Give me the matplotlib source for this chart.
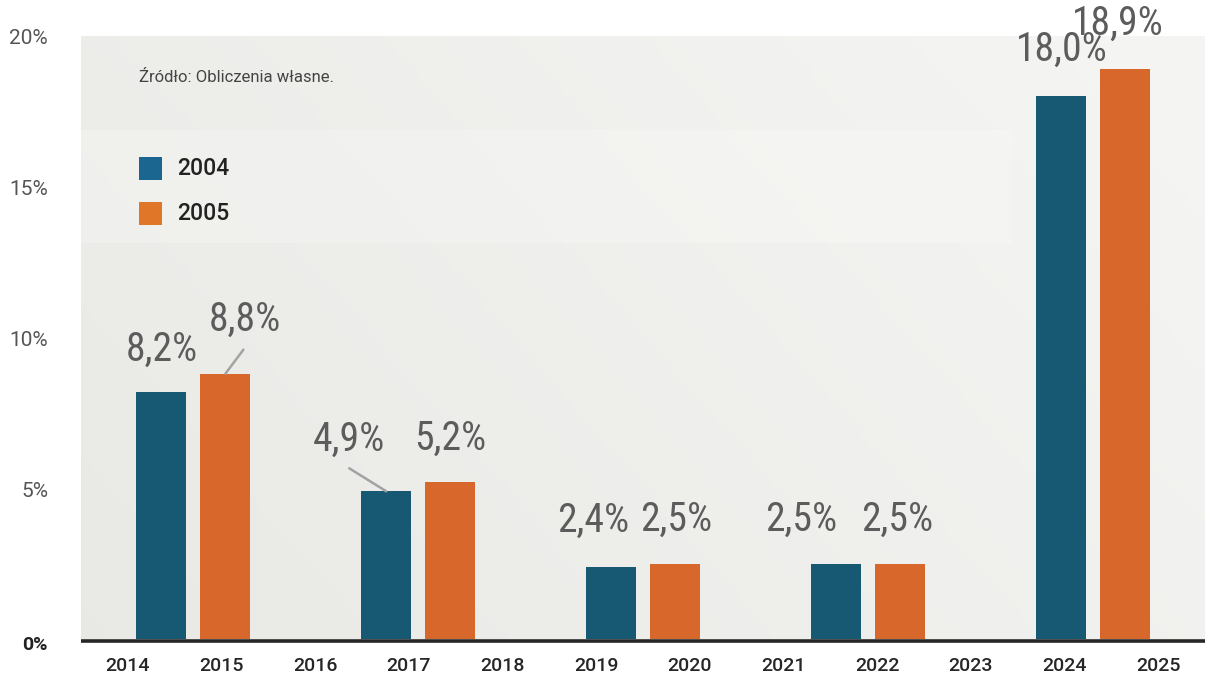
import numpy as np
import matplotlib
matplotlib.use("Agg")
import matplotlib.pyplot as plt
from matplotlib import font_manager as fm
from matplotlib.patches import Rectangle
import matplotlib.transforms as mtrans

# ---------------- data ----------------
tick_labels = ["2014", "2015", "2016", "2017", "2018", "2019",
               "2020", "2021", "2022", "2023", "2024", "2025"]
series_names = ["2004", "2005"]
values_2004 = [8.2, 4.9, 2.4, 2.5, 18.0]
values_2005 = [8.8, 5.2, 2.5, 2.5, 18.9]
label_2004 = ["8,2%", "4,9%", "2,4%", "2,5%", "18,0%"]
label_2005 = ["8,8%", "5,2%", "2,5%", "2,5%", "18,9%"]
y_ticks = [0, 5, 10, 15, 20]
y_tick_labels = ["0%", "5%", "10%", "15%", "20%"]
source_text = "Źródło: Obliczenia własne."

# ---------------- fonts ----------------
names = {f.name for f in fm.fontManager.ttflist}
base = "Roboto" if "Roboto" in names else "DejaVu Sans"
narrow = next((n for n in ["Liberation Sans Narrow", "Roboto Condensed"] if n in names), None)
lab_font = narrow if narrow else base
lab_size = 28.5 if narrow else 23

# ---------------- style ----------------
c_blue, c_orange = "#175873", "#d8672c"
c_leg_blue, c_leg_orange = "#1b6691", "#e07628"
W, H = 1205, 679
AX_L, AX_TOP, AX_BOT = 81, 36, 639
AX_W, AX_H = W - AX_L, AX_BOT - AX_TOP
fig = plt.figure(figsize=(W / 100, H / 100), dpi=100)
fig.patch.set_facecolor("white")
ax = fig.add_axes([AX_L / W, (H - AX_BOT) / H, AX_W / W, AX_H / H])

n_ticks = len(tick_labels)
n_groups = len(values_2004)
XMAX = 60.0
YMAX = 20.0
ax.set_xlim(0, XMAX)
ax.set_ylim(0, YMAX)


def axx(px):
    return (px - AX_L) / AX_W


def axy(py):
    return (AX_BOT - py) / AX_H


# background gradient
gx = np.linspace(0, 1, 200)
gy = np.linspace(0, 1, 100)
GX, GY = np.meshgrid(gx, gy)
t = np.clip(0.75 * GX + 0.35 * GY, 0, 1)
c0 = np.array([0.913, 0.914, 0.900])
c1 = np.array([0.957, 0.957, 0.950])
img = c0[None, None, :] * (1 - t[..., None]) + c1[None, None, :] * t[..., None]
ax.imshow(img, extent=[0, XMAX, 0, YMAX], aspect="auto", zorder=0, origin="lower")
for s in ax.spines.values():
    s.set_visible(False)

# legend band
ax.add_patch(Rectangle((axx(81), axy(243)), (1012 - 81) / AX_W, 113 / AX_H,
                       transform=ax.transAxes, facecolor="white", alpha=0.22,
                       edgecolor="none", zorder=0.5))

group_w = XMAX / n_groups
centers = np.array([(i + 0.5) * group_w for i in range(n_groups)])
bw = 50 / AX_W * XMAX
off = 32 / AX_W * XMAX
x1 = centers - off
x2 = centers + off
ax.bar(x1, values_2004, width=bw, color=c_blue, zorder=3)
ax.bar(x2, values_2005, width=bw, color=c_orange, zorder=3)

# baseline (drawn just below zero)
shift = mtrans.ScaledTranslation(0, -2.0 / 100, fig.dpi_scale_trans)
ax.plot([0, 1], [0, 0], transform=ax.transAxes + shift,
        color="#262626", lw=2.6, clip_on=False, zorder=2, solid_capstyle="butt")

# value labels (pixel offsets from bar top centre)
offs_2004 = [(0, 42), (-37, 52), (-18, 46), (-35, 44), (1, 47)]
offs_2005 = [(19, 54), (0, 44), (1, 44), (-3, 44), (-7, 46)]
leader_2004 = [None, (-37, 23), None, None, None]
leader_2005 = [(18, 24), None, None, None, None]
for xs, vals, labs, offs, leads in [(x1, values_2004, label_2004, offs_2004, leader_2004),
                                    (x2, values_2005, label_2005, offs_2005, leader_2005)]:
    for x, v, lab, o, ld in zip(xs, vals, labs, offs, leads):
        ax.annotate(lab, xy=(x, v), xytext=o, textcoords="offset pixels",
                    ha="center", va="center", fontsize=lab_size, family=lab_font,
                    color="#5c5c5c", zorder=5, annotation_clip=False)
        if ld is not None:
            ax.annotate("", xy=(x, v), xytext=ld, textcoords="offset pixels",
                        arrowprops=dict(arrowstyle="-", color="#a3a3a3", lw=1.8,
                                        shrinkA=0, shrinkB=0), zorder=4)

# x ticks
tick_pos = [(i + 0.5) * XMAX / n_ticks for i in range(n_ticks)]
ax.set_xticks(tick_pos)
ax.set_xticklabels(tick_labels, family=base, fontsize=14, weight="medium", color="#262626")
ax.tick_params(axis="x", length=0, pad=13)

# y tick labels drawn as annotations (axes-x, data-y)
ax.set_yticks([])
ytrans = ax.get_yaxis_transform()
for v, lab in zip(y_ticks, y_tick_labels):
    if v == 0:
        ax.annotate(lab, xy=(0, v), xycoords=ytrans, xytext=(-33, -6),
                    textcoords="offset pixels", ha="right", va="center",
                    family=base, fontsize=14, weight="bold", color="#222222")
    else:
        ax.annotate(lab, xy=(0, v), xycoords=ytrans, xytext=(-33, -3),
                    textcoords="offset pixels", ha="right", va="center",
                    family=base, fontsize=15, weight="normal", color="#555555",
                    annotation_clip=False)

# source text
ax.text(axx(139), axy(78), source_text, transform=ax.transAxes,
        family=base, fontsize=12, color="#444444", ha="left", va="center", zorder=5)

# legend
for i, (nm, col) in enumerate(zip(series_names, [c_leg_blue, c_leg_orange])):
    ytop = 157 + 45 * i
    ax.add_patch(Rectangle((axx(139), axy(ytop + 23)), 23 / AX_W, 23 / AX_H,
                           transform=ax.transAxes, facecolor=col, edgecolor="none", zorder=5))
    ax.text(axx(177), axy(ytop + 11.5), nm, transform=ax.transAxes,
            family=base, fontsize=16.5, weight="medium", color="#222222",
            ha="left", va="center", zorder=5)

fig.savefig("out.png", dpi=100)
